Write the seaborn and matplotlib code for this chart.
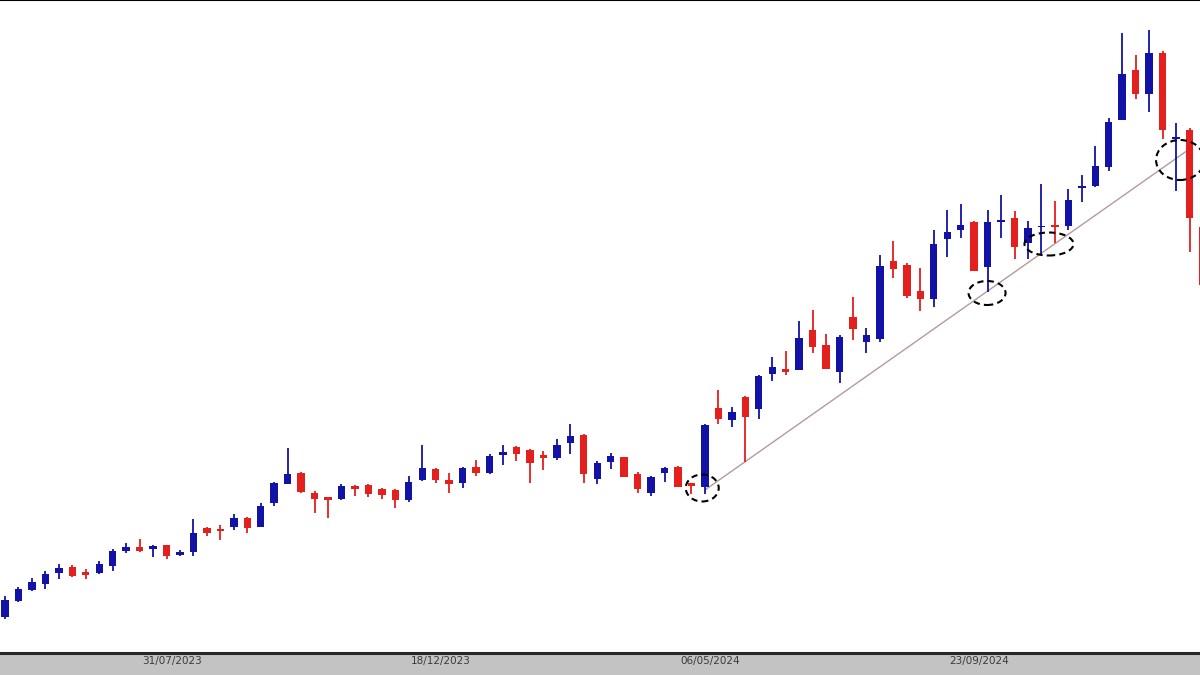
import pandas as pd
import matplotlib.pyplot as plt
import seaborn as sns
from matplotlib.patches import Ellipse

# weekly candles, prices in chart units (no price axis shown on the original)
opens = [43, 59, 70, 76, 87, 93, 88, 87, 94, 109, 113, 111, 115, 105, 108, 132, 131, 133, 142, 133,
         157, 176, 187, 167, 163, 161, 174, 175, 171, 170, 160, 180, 191, 180, 177, 193, 187, 205, 213, 210,
         205, 202, 217, 225, 181, 198, 203, 186, 167, 187, 193, 177, 173, 252, 240, 263, 251, 286, 291, 290,
         330, 315, 288, 343, 318, 321, 399, 395, 369, 361, 421, 430, 438, 393, 438, 442, 417, 433, 435, 434,
         472, 474, 493, 540, 590, 566, 607, 521, 530, 433]
highs = [64, 73, 82, 89, 96, 95, 91, 99, 111, 117, 121, 115, 115, 110, 141, 133, 135, 146, 143, 157,
         178, 212, 188, 169, 163, 176, 175, 176, 172, 171, 184, 215, 192, 187, 193, 200, 206, 215, 214, 211,
         209, 221, 236, 226, 199, 207, 203, 188, 184, 193, 194, 177, 236, 270, 253, 264, 285, 303, 309, 339,
         350, 326, 325, 363, 332, 405, 419, 397, 392, 430, 450, 456, 439, 450, 465, 449, 439, 476, 459, 471,
         485, 514, 542, 627, 605, 630, 609, 537, 532, 433]
lows = [41, 58, 69, 71, 81, 83, 81, 86, 89, 107, 108, 103, 101, 104, 104, 124, 120, 130, 127, 133,
        154, 176, 167, 147, 142, 160, 164, 163, 161, 152, 158, 179, 177, 167, 172, 184, 186, 195, 199, 177,
        190, 200, 206, 177, 176, 191, 183, 167, 164, 178, 173, 166, 166, 236, 233, 198, 241, 279, 285, 290,
        307, 291, 277, 320, 307, 318, 382, 362, 349, 353, 403, 422, 389, 368, 422, 401, 401, 405, 417, 430,
        458, 473, 489, 540, 561, 548, 521, 469, 408, 315]
closes = [60, 71, 78, 86, 92, 84, 85, 96, 109, 113, 109, 114, 104, 108, 127, 127, 129, 142, 132, 154,
          177, 186, 168, 161, 160, 174, 171, 166, 165, 160, 178, 192, 180, 176, 192, 187, 204, 208, 206, 197,
          202, 215, 224, 186, 197, 204, 183, 171, 183, 192, 173, 174, 235, 241, 248, 243, 284, 293, 288, 322,
          313, 291, 323, 331, 325, 394, 391, 364, 361, 416, 428, 435, 389, 438, 440, 413, 432, 434, 433, 460,
          474, 494, 538, 586, 566, 607, 530, 523, 442, 375]

tick_weeks = [12, 32, 52, 72]
tick_labels = ["31/07/2023", "18/12/2023", "06/05/2024", "23/09/2024"]

# trend line anchors (week index, price)
trend_weeks = [52, 88]
trend_prices = [170, 511]

# dashed circles marking touches of the trend line: week, price, width (weeks), height (price)
circle_weeks = [51.8, 72.96, 77.56, 87.3]
circle_prices = [172, 367, 416, 500]
circle_w = [2.45, 2.75, 3.64, 3.57]
circle_h = [27, 24, 23, 40]

BLUE = "#1212a6"
RED = "#e3201e"

df = pd.DataFrame({"open": opens, "high": highs, "low": lows, "close": closes})
df["week"] = range(len(df))
df["up"] = df["close"] >= df["open"]
df["color"] = df["up"].map({True: BLUE, False: RED})

sns.set_theme(style="white")
plt.rcParams["font.family"] = ["DejaVu Sans"]

fig = plt.figure(figsize=(12, 6.75), dpi=100, facecolor="#c3c3c3")
ax = fig.add_axes([0, 22 / 675, 1, 653 / 675])
ax.set_facecolor("white")

# wicks
ax.vlines(df["week"], df["low"], df["high"], colors=df["color"], linewidth=1.3, zorder=2)
# bodies
body = (df["close"] - df["open"]).abs().clip(lower=1.5)
bottom = df[["open", "close"]].min(axis=1)
ax.bar(df["week"], body, bottom=bottom, width=0.55, color=df["color"], linewidth=0, zorder=3)

trend = pd.DataFrame({"week": trend_weeks, "price": trend_prices})
sns.lineplot(data=trend, x="week", y="price", ax=ax, color="#b49a9a", linewidth=1.0, zorder=1)

for cx, cy, w, h in zip(circle_weeks, circle_prices, circle_w, circle_h):
    ax.add_patch(Ellipse((cx, cy), w, h, fill=False, edgecolor="black",
                         linestyle=(0, (3, 2)), linewidth=1.5, zorder=4))

ax.set_xlim(-0.37, 88.78)
ax.set_ylim(7, 660)
ax.set_xticks([w + 0.4 for w in tick_weeks])
ax.set_xticklabels(tick_labels, fontsize=7.5, color="#3a3a3a")
ax.tick_params(axis="x", length=0, pad=2)
ax.set_yticks([])
ax.set_xlabel("")
ax.set_ylabel("")

for side in ["left", "right"]:
    ax.spines[side].set_visible(False)
ax.spines["bottom"].set_color("#262626")
ax.spines["bottom"].set_linewidth(2.2)
ax.spines["top"].set_color("black")
ax.spines["top"].set_linewidth(1.5)

fig.savefig("out.png", dpi=100, facecolor=fig.get_facecolor())
